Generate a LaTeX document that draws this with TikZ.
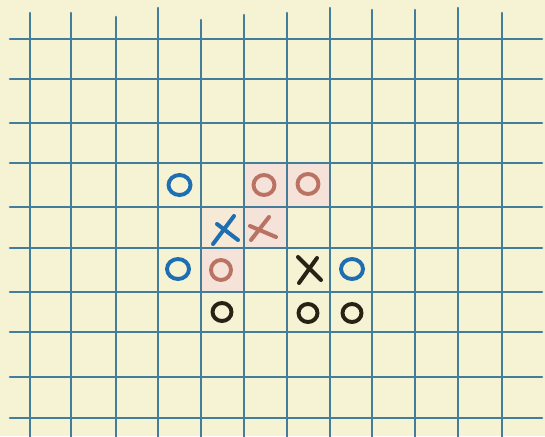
\documentclass[tikz,border=0pt]{standalone}
\begin{document}
\begin{tikzpicture}[x=1pt,y=-1pt,
  gridline/.style={draw=gridblue,line width=2.6pt,line cap=round},
  omark/.style={line width=3.9pt},
  xmark/.style={line width=4pt,line cap=round}]
\definecolor{paper}{RGB}{246,242,212}
\definecolor{gridblue}{RGB}{68,124,156}
\definecolor{markblue}{RGB}{30,110,178}
\definecolor{markbrown}{RGB}{186,114,98}
\definecolor{markblack}{RGB}{38,34,20}
\definecolor{pinkcell}{RGB}{245,226,216}
\useasboundingbox (0,0) rectangle (545,436);
\fill[paper] (0,0) rectangle (545,436);
% pink tinted cells
\fill[pinkcell] (244,163) rectangle (330,207);
\fill[pinkcell] (244,207) rectangle (287,248);
\fill[pinkcell!50!paper] (201,207) rectangle (244,248);
\fill[pinkcell] (201,248) rectangle (244,292);
% vertical lines
\foreach \x/\t in {30/13,71/13,116/17,158/8,201/20,244/15,287/13,330/8,372/10,415/10,458/8,502/13}
  \draw[gridline] (\x,\t) -- (\x,440);
% horizontal lines
\foreach \y in {39,79,123,163,207,248,292,332,377,418}
  \draw[gridline] (10,\y) -- (542,\y);
% O marks
\draw[omark,markblue] (179.5,185) ellipse (11 and 10);
\draw[omark,markblue] (178,269) ellipse (11 and 10);
\draw[omark,markblue] (352,269) ellipse (11 and 10);
\draw[omark,markbrown] (264,185) ellipse (10.5 and 10);
\draw[omark,markbrown] (308,184) ellipse (10.5 and 10);
\draw[omark,markbrown] (221,270) ellipse (10 and 10);
\draw[omark,markblack] (222,312) ellipse (9.5 and 9);
\draw[omark,markblack] (308,313) ellipse (9.5 and 9);
\draw[omark,markblack] (352,313) ellipse (9.5 and 9);
% X marks
\draw[xmark,markblue] (213,244) -- (234,216);
\draw[xmark,markblue] (217,224) -- (238,240);
\draw[xmark,markbrown] (269,217) -- (251,240);
\draw[xmark,markbrown] (250,226) -- (276,237);
\draw[xmark,markblack] (298,257) -- (321,280);
\draw[xmark,markblack] (317,258) -- (299,283);
\end{tikzpicture}
\end{document}
